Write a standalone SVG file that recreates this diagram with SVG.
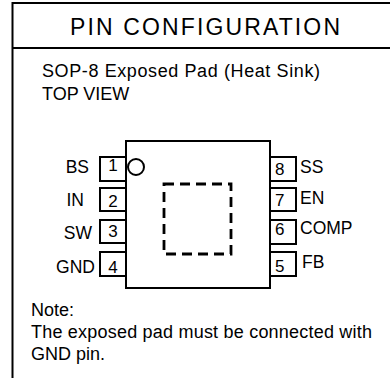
<svg xmlns="http://www.w3.org/2000/svg" width="390" height="378" viewBox="0 0 390 378">
<style>
text{font-family:"Liberation Sans",Arial,sans-serif;fill:#000}
.frame{fill:none;stroke:#000;stroke-width:2}
.pin{fill:#fff;stroke:#000;stroke-width:2}
.body{fill:#fff;stroke:#000;stroke-width:2}
.lbl{font-size:17.5px}
.num{font-size:17px}
.txt{font-size:18px}
</style>
<rect width="390" height="378" fill="#fff"/>
<g id="frame">
<path class="frame" d="M392 3H12.5V378M12.5 48H392"/>
<text x="70" y="35" font-size="23" textLength="270" lengthAdjust="spacing">PIN CONFIGURATION</text>
<text class="txt" x="42" y="77" textLength="278" lengthAdjust="spacing">SOP-8 Exposed Pad (Heat Sink)</text>
<text class="txt" x="42" y="100">TOP VIEW</text>
</g>
<g id="chip">
<rect class="body" x="126" y="141" width="144" height="147"/>
<circle cx="136" cy="167" r="8" fill="none" stroke="#000" stroke-width="2"/>
<rect x="164" y="184" width="67" height="70" fill="none" stroke="#000" stroke-width="2.8" stroke-dasharray="10 6"/>
</g>
<g id="pin1"><rect class="pin" x="100" y="157" width="26" height="24"/><text class="num" x="113" y="171" text-anchor="middle">1</text><text class="lbl" x="89" y="173" text-anchor="end">BS</text></g>
<g id="pin2"><rect class="pin" x="100" y="188" width="26" height="23"/><text class="num" x="113" y="207" text-anchor="middle">2</text><text class="lbl" x="84" y="206" text-anchor="end">IN</text></g>
<g id="pin3"><rect class="pin" x="100" y="220" width="26" height="23"/><text class="num" x="113" y="237" text-anchor="middle">3</text><text class="lbl" x="92" y="239" text-anchor="end">SW</text></g>
<g id="pin4"><rect class="pin" x="100" y="252" width="26" height="24"/><text class="num" x="113" y="273" text-anchor="middle">4</text><text class="lbl" x="95" y="273" text-anchor="end">GND</text></g>
<g id="pin8"><rect class="pin" x="270" y="157" width="26" height="24"/><text class="num" x="275" y="175">8</text><text class="lbl" x="300" y="173">SS</text></g>
<g id="pin7"><rect class="pin" x="270" y="188" width="26" height="23"/><text class="num" x="275" y="206">7</text><text class="lbl" x="300" y="204">EN</text></g>
<g id="pin6"><rect class="pin" x="270" y="220" width="26" height="24"/><text class="num" x="275" y="235">6</text><text class="lbl" x="300" y="234">COMP</text></g>
<g id="pin5"><rect class="pin" x="270" y="252" width="26" height="24"/><text class="num" x="275" y="272">5</text><text class="lbl" x="302" y="268">FB</text></g>
<g id="connectors"/>
<g id="note">
<text class="txt" x="31" y="316">Note:</text>
<text class="txt" x="31" y="338" textLength="341" lengthAdjust="spacing">The exposed pad must be connected with</text>
<text class="txt" x="31" y="360">GND pin.</text>
</g>
</svg>
